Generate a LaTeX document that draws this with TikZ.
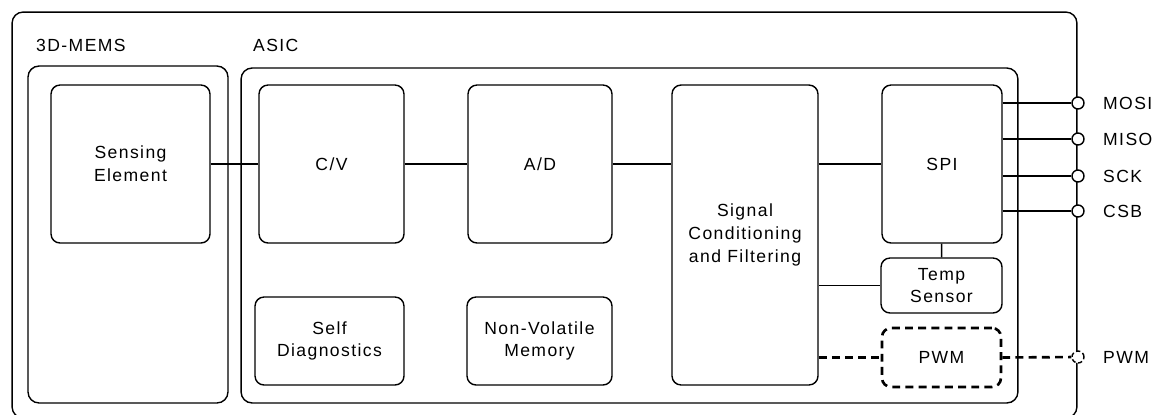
\documentclass[tikz,border=0pt]{standalone}
\usepackage{fontspec}
\setmainfont{Liberation Sans}[LetterSpace=8]
\begin{document}
\begin{tikzpicture}[x=0.02cm,y=-0.02cm,
    every node/.style={font=\fontsize{10}{13}\selectfont},
    blk/.style={draw,line width=0.8pt,rounded corners=0.18cm,align=center,inner sep=0pt},
    grp/.style={draw,line width=0.8pt,rounded corners=0.22cm,inner sep=0pt},
    pin/.style={draw,line width=0.8pt,circle,fill=white,minimum size=0.24cm,inner sep=0pt},
    dsh/.style={line width=1.5pt,dash pattern=on 4.5pt off 3pt}]
      \useasboundingbox (0,0) rectangle (1164,414);
      \node [grp,minimum width=21.3cm,minimum height=8.12cm] (chip) at (544.5,215) {};
      \node [grp,minimum width=4cm,minimum height=6.74cm] (mems) at (128,234.5) {};
      \node [grp,minimum width=15.54cm,minimum height=6.7cm] (asic) at (629.5,235.5) {};
      \node [anchor=west] (memst) at (30,45) {3D-MEMS};
      \node [anchor=west] (asict) at (247,45) {ASIC};
      \node [blk,minimum width=3.18cm,minimum height=3.16cm] (sense) at (130.5,164) {Sensing\\Element};
      \node [blk,minimum width=2.9cm,minimum height=3.16cm] (cv) at (331.5,164) {C/V};
      \node [blk,minimum width=2.88cm,minimum height=3.16cm] (ad) at (540,164) {A/D};
      \node [blk,minimum width=2.92cm,minimum height=6cm] (sig) at (745,235) {Signal\\Conditioning\\and Filtering};
      \node [blk,minimum width=2.4cm,minimum height=3.16cm] (spi) at (942,164) {SPI};
      \node [blk,minimum width=2.42cm,minimum height=1.1cm] (temp) at (941.5,285.5) {Temp\\Sensor};
      \node [blk,dsh,minimum width=2.38cm,minimum height=1.18cm] (pwm) at (941.5,357.5) {PWM};
      \node [blk,minimum width=2.98cm,minimum height=1.76cm] (diag) at (329.5,341) {Self\\Diagnostics};
      \node [blk,minimum width=2.9cm,minimum height=1.76cm] (nvm) at (539.5,341) {Non-Volatile\\Memory};
      % pins on the chip edge
      \node [pin] (mosi) at (1078,103) {};
      \node [pin] (miso) at (1078,139) {};
      \node [pin] (sck) at (1078,176) {};
      \node [pin] (csb) at (1078,211) {};
      \node [pin,dash pattern=on 2.5pt off 1.5pt] (pwmo) at (1078,357) {};
      \node [anchor=west] (mosit) at (1097,103) {MOSI};
      \node [anchor=west] (misot) at (1097,139) {MISO};
      \node [anchor=west] (sckt) at (1097,176) {SCK};
      \node [anchor=west] (csbt) at (1097,211) {CSB};
      \node [anchor=west] (pwmt) at (1097,357) {PWM};
      \draw [line width=0.8pt] (sense) -- (cv);
      \draw [line width=0.8pt] (cv) -- (ad);
      \draw [line width=0.8pt] (ad.east) -- (ad.east -| sig.west);
      \draw [line width=0.8pt] (sig.east |- spi) -- (spi.west);
      \draw [line width=0.8pt] (spi) -- (temp);
      \draw [line width=0.8pt] (sig.east |- temp) -- (temp.west);
      \draw [line width=0.8pt] (spi.east |- mosi) -- (mosi);
      \draw [line width=0.8pt] (spi.east |- miso) -- (miso);
      \draw [line width=0.8pt] (spi.east |- sck) -- (sck);
      \draw [line width=0.8pt] (spi.east |- csb) -- (csb);
      \draw [dsh] (sig.east |- pwm) -- (pwm.west);
      \draw [dsh] (pwm.east) -- (pwmo);
    \end{tikzpicture}
\end{document}
